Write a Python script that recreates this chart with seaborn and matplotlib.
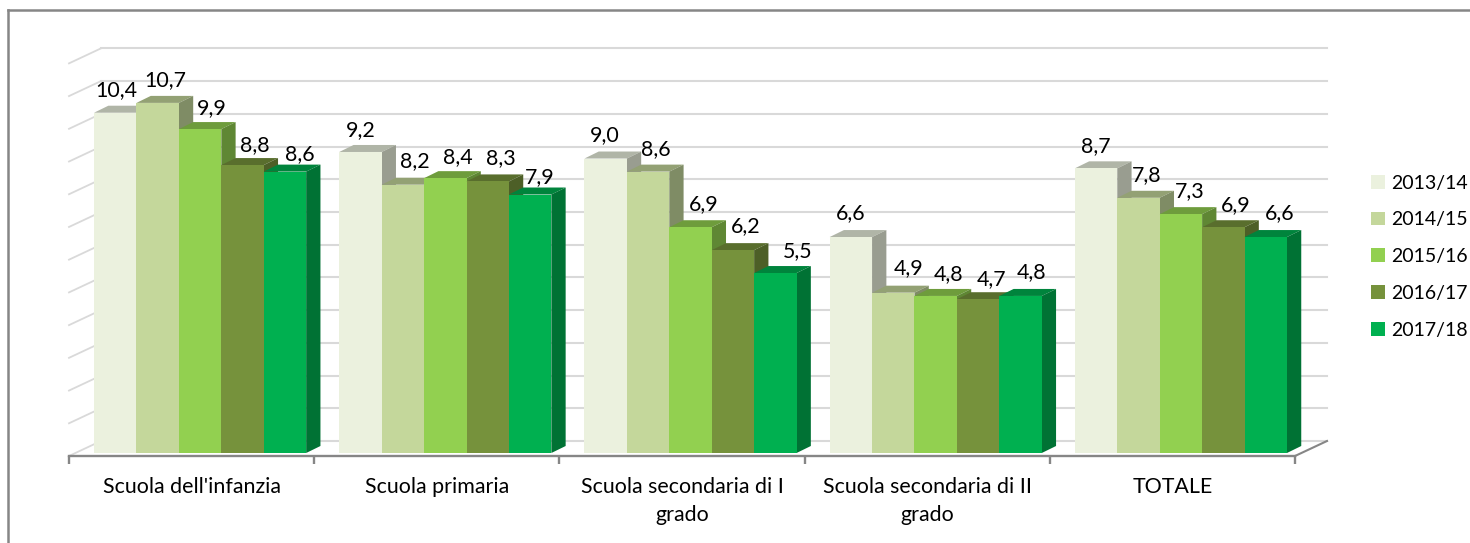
import matplotlib
matplotlib.use("Agg")
import matplotlib.pyplot as plt
import matplotlib.colors as mcolors
from matplotlib.lines import Line2D
from matplotlib.patches import Polygon
import pandas as pd
import seaborn as sns

# dati
scuole = ["Scuola dell'infanzia", "Scuola primaria", "Scuola secondaria di I\ngrado",
          "Scuola secondaria di II\ngrado", "TOTALE"]
anni = ["2013/14", "2014/15", "2015/16", "2016/17", "2017/18"]
val_2013 = [10.4, 9.2, 9.0, 6.6, 8.7]
val_2014 = [10.7, 8.2, 8.6, 4.9, 7.8]
val_2015 = [9.9, 8.4, 6.9, 4.8, 7.3]
val_2016 = [8.8, 8.3, 6.2, 4.7, 6.9]
val_2017 = [8.6, 7.9, 5.5, 4.8, 6.6]
colori = ["#EBF1DE", "#C4D79B", "#92D050", "#76923C", "#00B050"]

df = pd.DataFrame({"scuola": scuole})
for anno, vals in zip(anni, [val_2013, val_2014, val_2015, val_2016, val_2017]):
    df[anno] = vals
df = df.melt(id_vars="scuola", var_name="anno", value_name="valore")

# scale in pixel della figura
W, H = 1470, 543
PX_X = 245.2    # pixel per categoria
PX_Y = 32.72    # pixel per unita
SHIFT = 8.5 / PX_X
Y0 = -3 / PX_Y
DX, DY = 14.3 / PX_X, 7 / PX_Y     # profondita barre
WX, WY = 32 / PX_X, 15 / PX_Y      # profondita parete
GRIGIO = "#868686"
GRID = "#D9D9D9"
FONT = ["Lato", "DejaVu Sans"]
FS = 15.4

plt.rcParams["font.family"] = FONT
fig = plt.figure(figsize=(W / 100, H / 100), dpi=100)
ax = fig.add_axes([69 / W, (H - 456) / H, 1226 / W, 407 / H])

sns.barplot(data=df, x="scuola", y="valore", hue="anno", hue_order=anni, order=scuole,
            palette=colori, saturation=1, width=0.865, gap=0, ax=ax)

x0, x1 = -0.5 - SHIFT, 4.5 - SHIFT
ax.set_xlim(x0, x1)
ax.set_ylim(Y0, Y0 + 407 / PX_Y)

# griglia sulla parete di fondo
for k in range(13):
    yf = Y0 + k
    ax.plot([x0, x0 + WX], [yf, yf + WY], color=GRID, lw=1.3, zorder=1, clip_on=False)
    ax.plot([x0 + WX, x1 + WX], [yf + WY, yf + WY], color=GRID, lw=1.5, zorder=1, clip_on=False)
ax.plot([x1, x1 + WX], [Y0, Y0 + WY], color=GRIGIO, lw=1.5, zorder=2, clip_on=False)

# spostamento etichette in pixel: una riga per serie, una colonna per categoria
label_dx = [[1, 0, -1, 0, 0],
            [8, 12, 8, 15, 8],
            [12, 13, 13, 13, 9],
            [12, 13, 13, 13, 12],
            [15, 10, 22, 11, 14]]
label_dy = [[23, 22, 23, 24, 22],
            [23, 24, 23, 25, 23],
            [21, 21, 23, 22, 23],
            [20, 23, 24, 20, 22],
            [18, 17, 22, 24, 24]]

# facce 3D ed etichette
for k, cont in enumerate(ax.containers):
    rgb = mcolors.to_rgb(colori[k])
    top_col = tuple(c * 0.75 for c in rgb)
    side_col = tuple(c * 0.65 for c in rgb)
    for i, bar in enumerate(cont):
        xa, w, h = bar.get_x(), bar.get_width(), bar.get_height()
        xb = xa + w
        bar.set_zorder(3 + k + 0.2)
        bar.set_linewidth(0)
        ax.add_patch(Polygon([(xa, h), (xb, h), (xb + DX, h + DY), (xa + DX, h + DY)],
                             facecolor=top_col, lw=0, zorder=3 + k, clip_on=False))
        ax.add_patch(Polygon([(xb, 0), (xb + DX, DY), (xb + DX, h + DY), (xb, h)],
                             facecolor=side_col, lw=0, zorder=3 + k + 0.1, clip_on=False))
        ax.annotate(f"{h:.1f}".replace(".", ","), (xa + w / 2, h),
                    xytext=(label_dx[k][i] * 0.72, label_dy[k][i] * 0.72), textcoords="offset points",
                    ha="center", va="center", fontsize=FS, color="black", zorder=20)

# assi
for s in ["top", "left", "right"]:
    ax.spines[s].set_visible(False)
ax.spines["bottom"].set_color(GRIGIO)
ax.spines["bottom"].set_linewidth(1.7)
ax.spines["bottom"].set_zorder(10)
ax.set_yticks([])
ax.set_xlabel("")
ax.set_ylabel("")
ax.set_xticks([i - 0.5 - SHIFT for i in range(6)])
ax.set_xticklabels([])
ax.tick_params(axis="x", which="major", length=5.5, width=1.7, color=GRIGIO)
ax.set_xticks([i - SHIFT for i in range(5)], minor=True)
ax.set_xticklabels(scuole, minor=True, fontsize=FS, color="black", linespacing=1.5)
ax.tick_params(axis="x", which="minor", length=0, pad=15)
ax.patch.set_alpha(0)

# legenda
handles, labels = ax.get_legend_handles_labels()
ax.legend(handles, labels, loc="upper left", bbox_to_anchor=(1371 / W, 1 - 174.5 / H),
          bbox_transform=fig.transFigure, frameon=False, fontsize=14,
          handlelength=0.72, handleheight=0.72, handletextpad=0.31,
          labelspacing=1.02, borderpad=0, borderaxespad=0)

# cornice del grafico
fig.add_artist(Line2D([8 / W, 8 / W], [0, 1 - 10 / H], color=GRIGIO, lw=1.8))
fig.add_artist(Line2D([8 / W, 1], [1 - 10 / H, 1 - 10 / H], color=GRIGIO, lw=1.8))

fig.savefig("out.png", dpi=100)
